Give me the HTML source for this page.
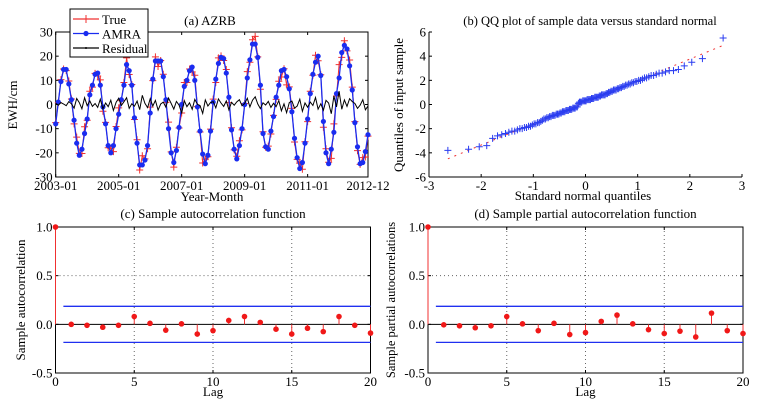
<!DOCTYPE html>
<html><head><meta charset="utf-8"><style>
html,body{margin:0;padding:0;background:#fff;}
svg{display:block;font-family:"Liberation Serif",serif;}
</style></head><body>
<svg id="fig" width="763" height="406" viewBox="0 0 763 406"></svg>
<script>
// ---- Panel (a) data ----
const monthLabels = ["2003-01","2005-01","2007-01","2009-01","2011-01","2012-12"];
const monthTicks = [0,24,48,72,96,119];
const ewhTicks = [-30,-20,-10,0,10,20,30];
const amra = [-8,1,9.5,14.5,14.5,8.5,2,-6.5,-16,-21,-18.5,-12,
 -6,4,8,12.5,13,8,-1,-8,-17,-20,-17,-10,
 -4,2,8,16.5,14,8,-5.5,-16,-25,-25,-23,-17,
 -3.5,10.5,18,18,18,11.5,2,-10,-20,-24,-19,-9.5,
 0,7.5,10,14,15.5,10,-1,-11,-20.5,-24.5,-21,-11,
 1,10.5,17,19.5,19,13,3,-10.5,-18.5,-22.5,-17,-10,
 0,11,18.5,25,25,19.5,8,-12,-17.5,-18.5,-11,-5,
 3,8,14,14.5,11.5,6.5,-3,-14,-22,-26.5,-24,-16,
 -6,4.5,12.5,17.5,20,12,-7,-20,-24.5,-18.5,-11.5,4.5,
 11,21.5,24.5,23,16,6,-7.5,-17.5,-24.5,-24,-19.5,-12.5];
const residual = [0.5,-0.3,0.8,0.2,-0.5,1.2,0.3,-1.5,2.5,0.8,-1.8,2.8,
 -0.5,1.5,-0.8,0.4,-1.2,2.2,-1.8,0.6,-0.9,1.8,-2.5,0.9,
 2.6,-0.4,1.1,2.8,-1.6,0.3,-0.7,1.4,-2.1,3.8,0.5,-1.3,
 2.4,-0.6,1.7,-2.3,0.2,1.0,-1.1,2.7,0.4,-1.9,1.3,-0.2,
 -3.5,1.6,-0.9,0.7,-2.0,2.1,0.1,-0.4,-3.7,1.9,-0.6,0.8,
 1.2,-1.4,2.3,0.6,-0.8,1.5,-2.2,0.9,-0.3,1.1,2.0,-0.5,
 0.4,2.6,-1.0,1.8,3.2,0.2,-1.7,0.7,-0.2,1.3,-1.2,0.5,
 -0.9,1.6,-2.6,0.3,-3.4,0.8,1.4,-1.5,-0.7,2.2,-2.8,0.6,
 -1.1,1.0,-0.4,2.9,-1.9,0.3,-2.4,1.7,0.6,-3.8,3.5,-1.0,
 5.5,-2.0,1.9,-0.8,2.4,1.2,0.4,-1.6,-0.3,2.0,-2.2,-0.6];
// ---- Panel (b) ticks ----
const qqXTicks = [-3,-2,-1,0,1,2,3];
const qqYTicks = [-6,-4,-2,0,2,4,6];
// ---- Panels (c),(d) data ----
const lags = [0,1,2,3,4,5,6,7,8,9,10,11,12,13,14,15,16,17,18,19,20];
const acf = [1,0,-0.01,-0.03,-0.01,0.08,0.01,-0.06,0.005,-0.10,-0.065,0.04,0.08,0.02,-0.05,-0.10,-0.04,-0.075,0.08,-0.01,-0.09];
const pacf = [1,-0.005,-0.015,-0.035,-0.015,0.08,0.005,-0.065,0.01,-0.105,-0.085,0.03,0.095,0.005,-0.055,-0.095,-0.07,-0.13,0.115,-0.065,-0.095];
const confBound = [0.185];
const lagTicks = [0,5,10,15,20];
const corrTicks = [-0.5,0,0.5,1];
const corrTickLabels = ["-0.5","0.0","0.5","1.0"];

const FS=13;
const NS="http://www.w3.org/2000/svg";
const svg=document.getElementById('fig');
function el(tag,attrs,parent,text){const e=document.createElementNS(NS,tag);for(const k in attrs)e.setAttribute(k,attrs[k]);if(text!==undefined)e.textContent=text;(parent||svg).appendChild(e);return e;}
function lin(d0,d1,r0,r1){return v=>r0+(v-d0)*(r1-r0)/(d1-d0);}

function axisBox(g,L,R,T,B,box){
  if(box){const r=el('rect',{x:L,y:T,width:R-L,height:B-T,fill:'none',stroke:'#000','stroke-width':1},g);
  
  }
  else{el('line',{x1:L,y1:T,x2:L,y2:B,stroke:'#000'},g);el('line',{x1:L,y1:B,x2:R,y2:B,stroke:'#000'},g);}
}
function ticksX(g,vals,labels,sx,B,T,box,nm){
  vals.forEach((v,i)=>{const x=sx(v);
    el('line',{x1:x,y1:B,x2:x,y2:B-3,stroke:'#000'},g);
    if(box)el('line',{x1:x,y1:T,x2:x,y2:T+3,stroke:'#000'},g);
    const t=el('text',{x:x,y:B+13,'text-anchor':'middle','font-size':FS},g,labels[i]);
    
    });
}
function ticksY(g,vals,labels,sy,L,R,box,nm){
  vals.forEach((v,i)=>{const y=sy(v);
    el('line',{x1:L,y1:y,x2:L+3,y2:y,stroke:'#000'},g);
    if(box)el('line',{x1:R,y1:y,x2:R-3,y2:y,stroke:'#000'},g);
    const t=el('text',{x:L-3,y:y+4.5,'text-anchor':'end','font-size':FS},g,labels[i]);
    
    });
}
function label(g,x,y,txt,nm,rot,size){
  const t=el('text',{x:x,y:y,'text-anchor':'middle','font-size':size||FS},g,txt);
  if(rot)t.setAttribute('transform','rotate(-90 '+x+' '+y+')');
  
  
  return t;
}

// ===== Panel (a) =====
(function(){
  const g=el('g',{});
  
  
  const L=55.7,R=368,T=32,B=177;
  const sx=lin(0,119,L,R), sy=lin(-30,30,B,T);
  axisBox(g,L,R,T,B,true);
  ticksX(g,monthTicks,monthLabels,sx,B,T,true,'panel-a');
  ticksY(g,ewhTicks,ewhTicks.map(String),sy,L,R,true,'panel-a');
  label(g,210,25,'(a) AZRB','panel-a-title');
  label(g,212,201,'Year-Month','panel-a-x-axis-title');
  label(g,17,105,'EWH/cm','panel-a-y-axis-title',true);
  const truth=amra.map((v,i)=>v+residual[i]);
  const tp=truth.map((v,i)=>sx(i).toFixed(1)+','+sy(v).toFixed(1)).join(' ');
  const tl=el('polyline',{points:tp,fill:'none',stroke:'#f03030','stroke-width':1},g);
  
  
  truth.forEach((v,i)=>{const x=sx(i),y=sy(v);
    const m=el('path',{d:`M${x-3.5},${y}H${x+3.5}M${x},${y-3.5}V${y+3.5}`,stroke:'#f03030','stroke-width':1},g);
    
    });
  const ap=amra.map((v,i)=>sx(i).toFixed(1)+','+sy(v).toFixed(1)).join(' ');
  const al=el('polyline',{points:ap,fill:'none',stroke:'#1a2cf0','stroke-width':1.3},g);
  
  
  amra.forEach((v,i)=>{
    const c=el('circle',{cx:sx(i),cy:sy(v),r:2.6,fill:'#1a2cf0'},g);
    
    });
  const rp=residual.map((v,i)=>sx(i).toFixed(1)+','+sy(v).toFixed(1)).join(' ');
  const rl=el('polyline',{points:rp,fill:'none',stroke:'#000','stroke-width':1},g);
  
  
  const lg=el('g',{},g);
  
  
  el('rect',{x:70,y:9,width:78,height:48,fill:'#fff',stroke:'#000'},lg);
  const items=[['True','#f03030','plus'],['AMRA','#1a2cf0','dot'],['Residual','#000','none']];
  items.forEach((it,i)=>{const y=19+i*14.5;
    const e=el('g',{},lg);
    
    
    el('line',{x1:73,y1:y,x2:99,y2:y,stroke:it[1],'stroke-width':1.2},e);
    if(it[2]=='plus')el('path',{d:`M82,${y}h8M86,${y-4}v8`,stroke:it[1]},e);
    if(it[2]=='dot')el('circle',{cx:86,cy:y,r:2.6,fill:it[1]},e);
    if(it[2]=='none')el('circle',{cx:86,cy:y,r:1,fill:it[1]},e);
    el('text',{x:102,y:y+5,'font-size':FS},e,it[0]);});
})();

// ===== Panel (b) QQ =====
function ninv(p){const a=[-39.69683028665376,220.9460984245205,-275.9285104469687,138.357751867269,-30.66479806614716,2.506628277459239],
b=[-54.47609879822406,161.5858368580409,-155.6989798598866,66.80131188771972,-13.28068155288572],
c=[-0.007784894002430293,-0.3223964580411365,-2.400758277161838,-2.549732539343734,4.374664141464968,2.938163982698783],
d=[0.007784695709041462,0.3224671290700398,2.445134137142996,3.754408661907416];
const pl=0.02425;let q,r;
if(p<pl){q=Math.sqrt(-2*Math.log(p));return(((((c[0]*q+c[1])*q+c[2])*q+c[3])*q+c[4])*q+c[5])/((((d[0]*q+d[1])*q+d[2])*q+d[3])*q+1);}
if(p>1-pl){q=Math.sqrt(-2*Math.log(1-p));return-(((((c[0]*q+c[1])*q+c[2])*q+c[3])*q+c[4])*q+c[5])/((((d[0]*q+d[1])*q+d[2])*q+d[3])*q+1);}
q=p-0.5;r=q*q;return(((((a[0]*r+a[1])*r+a[2])*r+a[3])*r+a[4])*r+a[5])*q/(((((b[0]*r+b[1])*r+b[2])*r+b[3])*r+b[4])*r+1);}
(function(){
  const g=el('g',{});
  
  
  const L=429,R=742,T=32,B=177;
  const sx=lin(-3,3,L,R), sy=lin(-6,6,B,T);
  axisBox(g,L,R,T,B,false);
  ticksX(g,qqXTicks,qqXTicks.map(String),sx,B,T,false,'panel-b');
  ticksY(g,qqYTicks,qqYTicks.map(String),sy,L,R,false,'panel-b');
  label(g,590,25,'(b) QQ plot of sample data versus standard normal','panel-b-title',false,12.5);
  label(g,583,200,'Standard normal quantiles','panel-b-x-axis-title');
  label(g,403,105,'Quantiles of input sample','panel-b-y-axis-title',true);
  const s=residual.slice().sort((a,b)=>a-b), n=s.length;
  const th=s.map((v,i)=>ninv((i+0.5)/n));
  const q1=s[Math.floor(n*0.25)], q3=s[Math.floor(n*0.75)], z=0.6745;
  const slope=(q3-q1)/(2*z), mid=(q1+q3)/2;
  const rl=el('line',{x1:sx(th[0]),y1:sy(mid+slope*th[0]),x2:sx(th[n-1]),y2:sy(mid+slope*th[n-1]),stroke:'#f03030','stroke-width':1,'stroke-dasharray':'2,5'},g);
  
  
  s.forEach((v,i)=>{const x=sx(th[i]),y=sy(v);
    const m=el('path',{d:`M${x-3.5},${y}H${x+3.5}M${x},${y-3.5}V${y+3.5}`,stroke:'#2a3cf0','stroke-width':1},g);
    
    });
})();

// ===== Panels (c),(d) =====
function corrPanel(vals,L,R,title,ylab,ylx,nm,fs){
  const g=el('g',{});
  
  
  const T=227,B=373;
  const sx=lin(0,20,L,R), sy=lin(-0.5,1,B,T);
  [5,10,15].forEach(v=>el('line',{x1:sx(v),y1:T,x2:sx(v),y2:B,stroke:'#666','stroke-dasharray':'1,3'},g));
  el('line',{x1:L,y1:sy(0.5),x2:R,y2:sy(0.5),stroke:'#666','stroke-dasharray':'1,3'},g);
  axisBox(g,L,R,T,B,true);
  ticksX(g,lagTicks,lagTicks.map(String),sx,B,T,true,nm);
  ticksY(g,corrTicks,corrTickLabels,sy,L,R,true,nm);
  label(g,(L+R)/2,218,title,nm+'-title');
  label(g,(L+R)/2,396,'Lag',nm+'-x-axis-title');
  label(g,ylx,300,ylab,nm+'-y-axis-title',true,fs);
  el('line',{x1:L,y1:sy(0),x2:R,y2:sy(0),stroke:'#000'},g);
  [confBound[0],-confBound[0]].forEach((b,i)=>{
    const l=el('line',{x1:sx(0.5),y1:sy(b),x2:R,y2:sy(b),stroke:'#2030f0','stroke-width':1.3},g);
    
    });
  vals.forEach((v,i)=>{const x=sx(lags[i]);
    const st=el('line',{x1:x,y1:sy(0),x2:x,y2:sy(v),stroke:'#f03030','stroke-width':1},g);
    
    
    const c=el('circle',{cx:x,cy:sy(v),r:2.8,fill:'#f01818'},g);
    
    });
}
corrPanel(acf,55.5,370.5,'(c) Sample autocorrelation function','Sample autocorrelation',25,'panel-c-acf',13);
corrPanel(pacf,428,743,'(d) Sample partial autocorrelation function','Sample partial autocorrelations',395,'panel-d-pacf',12.5);
</script>
</body></html>
